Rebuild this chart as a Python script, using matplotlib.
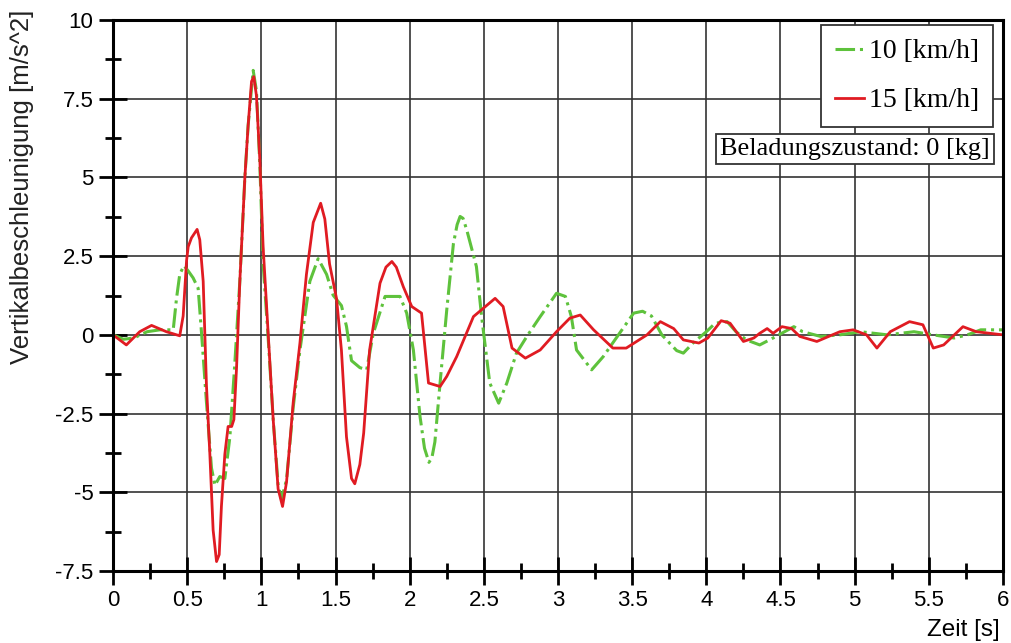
import matplotlib
matplotlib.use("Agg")
from matplotlib import pyplot as plt
from matplotlib.ticker import MultipleLocator

# 10 km/h (green, dash-dot)
t10 = [0.0, 0.07, 0.14, 0.23, 0.316, 0.406, 0.428, 0.45, 0.478, 0.507, 0.54, 0.574, 0.597,
       0.63, 0.664, 0.687, 0.72, 0.754, 0.788, 0.82, 0.855, 0.889, 0.911, 0.945, 0.967,
       0.99, 1.012, 1.046, 1.08, 1.113, 1.136, 1.17, 1.215, 1.26, 1.327, 1.383, 1.44,
       1.484, 1.54, 1.574, 1.608, 1.664, 1.71, 1.755, 1.834, 1.935, 1.98, 2.025, 2.07,
       2.10, 2.13, 2.15, 2.17, 2.205, 2.25, 2.295, 2.32, 2.34, 2.36, 2.385, 2.45, 2.485,
       2.54, 2.60, 2.655, 2.72, 2.79, 2.88, 2.99, 3.05, 3.09, 3.125, 3.227, 3.305, 3.40,
       3.51, 3.57, 3.63, 3.70, 3.80, 3.845, 3.91, 4.0, 4.06, 4.14, 4.20, 4.27, 4.36, 4.45,
       4.59, 4.65, 4.77, 4.90, 5.04, 5.22, 5.40, 5.53, 5.67, 5.76, 5.85, 6.0]
a10 = [0.0, -0.14, -0.1, 0.1, 0.16, 0.16, 1.15, 1.92, 2.2, 2.03, 1.81, 1.48, 0.05,
       -2.14, -4.23, -4.78, -4.5, -4.56, -3.24, -1.0, 1.7, 5.0, 6.65, 8.4, 7.75,
       5.4, 2.25, -0.1, -2.69, -4.75, -5.22, -4.6, -2.3, -0.49, 1.7, 2.42, 1.92,
       1.26, 0.93, 0.27, -0.82, -1.04, -1.11, 0.05, 1.22, 1.22, 0.69, -0.48, -2.6,
       -3.6, -4.05, -3.9, -3.4, -1.53, 0.79, 2.9, 3.5, 3.76, 3.7, 3.33, 2.17, 0.58,
       -1.53, -2.17, -1.53, -0.58, -0.05, 0.58, 1.32, 1.22, 0.58, -0.48, -1.11, -0.69,
       -0.05, 0.69, 0.75, 0.6, 0.0, -0.5, -0.58, -0.26, 0.1, 0.37, 0.42, 0.1, -0.16,
       -0.32, -0.1, 0.26, 0.1, -0.05, 0.0, 0.1, 0.0, 0.1, 0.0, -0.1, 0.0, 0.16, 0.16]

# 15 km/h (red, solid)
t15 = [0.0, 0.09, 0.18, 0.26, 0.36, 0.45, 0.473, 0.496, 0.507, 0.529, 0.567, 0.585, 0.608,
       0.63, 0.653, 0.675, 0.698, 0.716, 0.731, 0.754, 0.776, 0.80, 0.815, 0.833, 0.855,
       0.889, 0.911, 0.934, 0.949, 0.967, 0.99, 1.012, 1.046, 1.08, 1.113, 1.143, 1.17,
       1.215, 1.26, 1.304, 1.35, 1.40, 1.428, 1.46, 1.507, 1.54, 1.574, 1.608, 1.63,
       1.664, 1.69, 1.73, 1.80, 1.84, 1.88, 1.91, 1.957, 2.014, 2.08, 2.127, 2.205, 2.25,
       2.317, 2.43, 2.576, 2.63, 2.69, 2.78, 2.88, 2.99, 3.08, 3.15, 3.24, 3.37, 3.46,
       3.60, 3.69, 3.78, 3.845, 3.95, 4.01, 4.10, 4.16, 4.25, 4.32, 4.36, 4.41, 4.45,
       4.51, 4.575, 4.63, 4.745, 4.90, 4.99, 5.08, 5.15, 5.24, 5.37, 5.46, 5.53, 5.60,
       5.73, 5.82, 6.0]
a15 = [0.0, -0.32, 0.1, 0.3, 0.1, -0.03, 0.6, 2.36, 2.8, 3.08, 3.35, 3.02, 1.7,
       -1.6, -3.79, -6.2, -7.2, -6.98, -5.44, -3.79, -2.91, -2.91, -2.69, -1.04, 1.7,
       5.0, 6.65, 8.05, 8.2, 7.6, 5.55, 2.8, 0.05, -2.69, -4.89, -5.45, -4.67,
       -2.14, -0.27, 1.92, 3.57, 4.18, 3.68, 2.25, 1.15, -0.49, -3.24, -4.56, -4.73,
       -4.12, -3.12, -0.48, 1.64, 2.15, 2.33, 2.15, 1.53, 0.9, 0.69, -1.53, -1.64, -1.32,
       -0.69, 0.58, 1.16, 0.9, -0.42, -0.74, -0.48, 0.1, 0.53, 0.63, 0.16, -0.42, -0.42,
       0.0, 0.42, 0.2, -0.16, -0.26, -0.1, 0.45, 0.37, -0.21, -0.1, 0.05, 0.2, 0.05,
       0.26, 0.2, -0.05, -0.21, 0.1, 0.16, 0.0, -0.42, 0.1, 0.42, 0.32, -0.42, -0.32,
       0.26, 0.1, 0.0]

green = "#5ec23c"
red = "#e01b22"

fig = plt.figure(figsize=(10.11, 6.43), dpi=100)
ax = fig.add_axes([113 / 1011, 1 - 571 / 643, 890 / 1011, 551 / 643])

ax.plot(t10, a10, color=green, lw=2.2, ls="-.", label="10 [km/h]")
ax.plot(t15, a15, color=red, lw=2.0, label="15 [km/h]")

ax.set_xlim(0, 6)
ax.set_ylim(-7.5, 10)
ax.xaxis.set_minor_locator(MultipleLocator(0.25))
ax.yaxis.set_minor_locator(MultipleLocator(1.25))
ax.set_xticks([0, 0.5, 1, 1.5, 2, 2.5, 3, 3.5, 4, 4.5, 5, 5.5, 6])
ax.set_xticklabels(["0", "0.5", "1", "1.5", "2", "2.5", "3", "3.5", "4", "4.5", "5", "5.5", "6"])
ax.set_yticks([-7.5, -5, -2.5, 0, 2.5, 5, 7.5, 10])
ax.set_yticklabels(["-7.5", "-5", "-2.5", "0", "2.5", "5", "7.5", "10"])
ax.tick_params(which="major", direction="inout", length=20, width=2, labelsize=16, pad=4)
ax.tick_params(which="minor", direction="inout", length=12, width=2)
for lab in ax.get_xticklabels() + ax.get_yticklabels():
    lab.set_fontfamily("Liberation Sans")
ax.grid(True, which="major", color="#333333", lw=1.2)
for sp in ax.spines.values():
    sp.set_linewidth(2.2)

fig.text(22 / 1011, 1 - 10 / 643, "Vertikalbeschleunigung [m/s^2]", rotation=90,
         ha="center", va="top", fontsize=18.5, color="#222222", family="Liberation Sans")
fig.text(1000 / 1011, 1 - 630 / 643, "Zeit [s]", ha="right", va="center",
         fontsize=17.5, family="Liberation Sans")

leg = ax.legend(loc="upper right", bbox_to_anchor=(0.9884, 0.9909),
                prop={"family": "Liberation Serif", "size": 20}, fancybox=False,
                framealpha=1, edgecolor="#333333", handlelength=1.05, handletextpad=0.15,
                borderaxespad=0, borderpad=0.5, labelspacing=0.85)
leg.get_frame().set_linewidth(1.3)

ax.text((990 - 113) / 890, (571 - 149) / 551, "Beladungszustand: 0 [kg]",
        transform=ax.transAxes, ha="right", va="center", fontsize=19,
        family="Liberation Serif",
        bbox=dict(boxstyle="square,pad=0.15", fc="white", ec="#333333", lw=1.3))

fig.savefig("out.png", dpi=100)
